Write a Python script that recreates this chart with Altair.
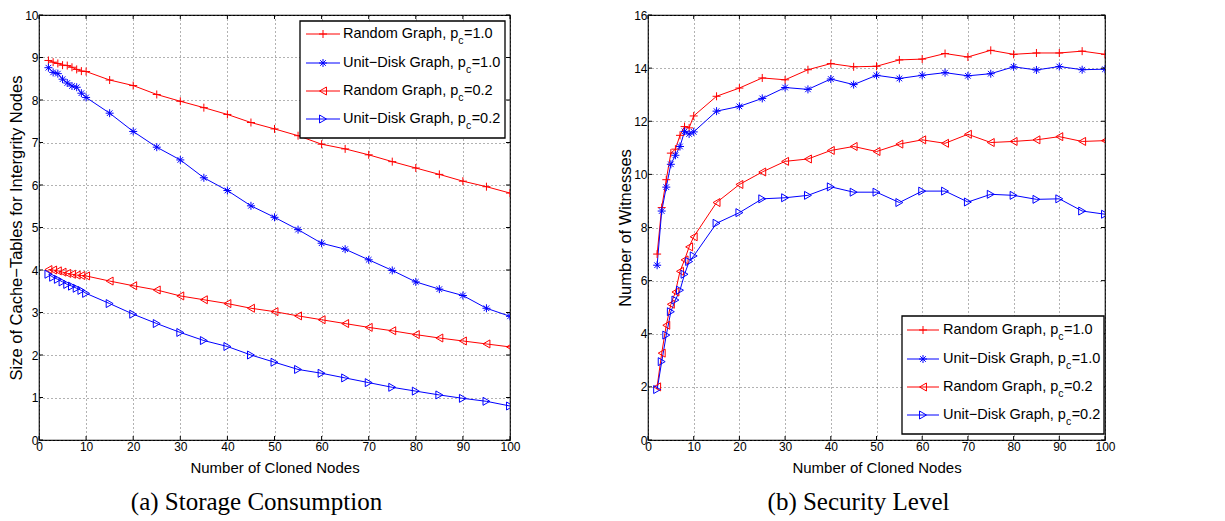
import altair as alt
import pandas as pd

# ---------------- data ----------------
X = [2, 3, 4, 5, 6, 7, 8, 9, 10, 15, 20, 25, 30, 35, 40, 45, 50, 55, 60, 65, 70, 75, 80, 85, 90, 95, 100]

SERIES = ["Random Graph, pc=1.0", "Unit-Disk Graph, pc=1.0", "Random Graph, pc=0.2", "Unit-Disk Graph, pc=0.2"]
LEGEND_PREFIX = ["Random Graph, p", "Unit\u2212Disk Graph, p", "Random Graph, p", "Unit\u2212Disk Graph, p"]
LEGEND_SUB = ["c", "c", "c", "c"]
LEGEND_SUFFIX = ["=1.0", "=1.0", "=0.2", "=0.2"]

# (a) Storage Consumption
A_RAND_10 = [8.93, 8.89, 8.86, 8.82, 8.81, 8.77, 8.72, 8.68, 8.67, 8.47, 8.34, 8.13, 7.97, 7.82, 7.66, 7.47, 7.32, 7.16, 6.96, 6.85, 6.71, 6.55, 6.40, 6.25, 6.09, 5.96, 5.81]
A_UDG_10 = [8.76, 8.65, 8.62, 8.49, 8.40, 8.33, 8.30, 8.16, 8.06, 7.69, 7.26, 6.89, 6.59, 6.17, 5.87, 5.51, 5.24, 4.95, 4.63, 4.49, 4.24, 3.99, 3.72, 3.55, 3.40, 3.10, 2.91]
A_RAND_02 = [4.01, 4.00, 3.98, 3.95, 3.92, 3.90, 3.88, 3.87, 3.86, 3.74, 3.63, 3.53, 3.39, 3.30, 3.21, 3.10, 3.02, 2.92, 2.83, 2.74, 2.65, 2.57, 2.48, 2.40, 2.33, 2.26, 2.19]
A_UDG_02 = [3.90, 3.83, 3.78, 3.72, 3.66, 3.62, 3.57, 3.52, 3.45, 3.21, 2.96, 2.74, 2.53, 2.34, 2.20, 2.00, 1.83, 1.66, 1.57, 1.46, 1.35, 1.24, 1.15, 1.06, 0.98, 0.91, 0.80]

# (b) Security Level
B_RAND_10 = [7.0, 8.75, 9.8, 10.8, 10.95, 11.47, 11.8, 11.75, 12.2, 12.94, 13.25, 13.63, 13.56, 13.94, 14.17, 14.05, 14.07, 14.31, 14.34, 14.55, 14.42, 14.67, 14.52, 14.57, 14.57, 14.64, 14.52]
B_UDG_10 = [6.58, 8.62, 9.52, 10.38, 10.72, 11.05, 11.62, 11.52, 11.6, 12.38, 12.56, 12.86, 13.27, 13.2, 13.59, 13.38, 13.73, 13.61, 13.73, 13.83, 13.71, 13.79, 14.05, 13.93, 14.06, 13.94, 13.96]
B_RAND_02 = [2.0, 3.27, 4.32, 5.11, 5.57, 6.35, 6.78, 7.27, 7.65, 8.94, 9.62, 10.09, 10.49, 10.58, 10.9, 11.05, 10.86, 11.14, 11.3, 11.17, 11.51, 11.2, 11.24, 11.3, 11.42, 11.24, 11.27]
B_UDG_02 = [1.9, 2.95, 3.95, 4.83, 5.27, 5.64, 6.24, 6.72, 6.93, 8.16, 8.56, 9.08, 9.12, 9.21, 9.53, 9.33, 9.33, 8.94, 9.37, 9.37, 8.96, 9.25, 9.21, 9.06, 9.08, 8.62, 8.50]

X_TICKS = [0, 10, 20, 30, 40, 50, 60, 70, 80, 90, 100]
A_Y_TICKS = [0, 1, 2, 3, 4, 5, 6, 7, 8, 9, 10]
B_Y_TICKS = [0, 2, 4, 6, 8, 10, 12, 14, 16]

# ---------------- style ----------------
FONT = "Liberation Sans"
SERIF = "Liberation Serif"
COLORS = ["#ff0000", "#0000ff", "#ff0000", "#0000ff"]
PLUS = "M-1,0H1M0,-1V1"
STAR = "M-1,0H1M0,-1V1M-0.7,-0.7L0.7,0.7M-0.7,0.7L0.7,-0.7"
SHAPES = [PLUS, STAR, "triangle-left", "triangle-right"]
MSIZE = 64
LEG_FS = 14.5
SUB_FS = 10.5
TICK_LEN = 4
H = 425

# Arial / Liberation Sans advance widths (per 1000 em)
AW = {" ": 278, ",": 278, "-": 333, "\u2212": 584, "=": 584, ".": 278, "0": 556, "1": 556, "2": 556,
      "R": 722, "G": 778, "U": 722, "D": 722, "a": 556, "n": 556, "d": 556, "o": 556, "m": 833,
      "r": 333, "p": 556, "h": 556, "i": 222, "t": 278, "s": 500, "k": 500, "c": 500}


def tw(s, size):
    return sum(AW.get(ch, 556) for ch in s) * size / 1000.0


def panel(vals, ymax, yticks, ytitle, caption, width, height, box, rows_y, line_x, text_x):
    recs = []
    for name, ys in zip(SERIES, vals):
        for xv, yv in zip(X, ys):
            recs.append({"x": xv, "y": yv, "series": name})
    df = pd.DataFrame(recs)
    color = alt.Color("series:N", scale=alt.Scale(domain=SERIES, range=COLORS), legend=None)
    shape = alt.Shape("series:N", scale=alt.Scale(domain=SERIES, range=SHAPES), legend=None)
    xaxis = alt.Axis(values=X_TICKS, title="Number of Cloned Nodes", format="d", labelPadding=1,
                     titlePadding=8, titleFontSize=15)
    yaxis = alt.Axis(values=yticks, title=ytitle, format="d", labelPadding=1, titlePadding=0,
                     titleFontSize=16.5)
    xenc = alt.X("x:Q", scale=alt.Scale(domain=[0, 100], nice=False, zero=False), axis=xaxis)
    yenc = alt.Y("y:Q", scale=alt.Scale(domain=[0, ymax], nice=False), axis=yaxis)
    base = alt.Chart(df)
    lines = base.mark_line(strokeWidth=1, clip=True).encode(x=xenc, y=yenc, color=color, detail="series:N")
    pts = base.mark_point(strokeWidth=1, filled=False, size=MSIZE, opacity=1, clip=True).encode(
        x=xenc, y=yenc, color=color, shape=shape)

    # inward ticks on all four sides (MATLAB box style)
    xt = alt.Chart(pd.DataFrame({"x": X_TICKS}))
    yt = alt.Chart(pd.DataFrame({"y": yticks}))
    ticks = [
        xt.mark_rule(color="black", strokeWidth=1).encode(x=xenc, y=alt.value(height), y2=alt.value(height - TICK_LEN)),
        xt.mark_rule(color="black", strokeWidth=1).encode(x=xenc, y=alt.value(0), y2=alt.value(TICK_LEN)),
        yt.mark_rule(color="black", strokeWidth=1).encode(y=yenc, x=alt.value(0), x2=alt.value(TICK_LEN)),
        yt.mark_rule(color="black", strokeWidth=1).encode(y=yenc, x=alt.value(width), x2=alt.value(width - TICK_LEN)),
    ]

    dummy = alt.Chart(pd.DataFrame({"d": [0]}))
    layers = [lines, pts] + ticks
    layers.append(dummy.mark_rect(fill="white", stroke="black", strokeWidth=1.3).encode(
        x=alt.value(box[0]), x2=alt.value(box[1]), y=alt.value(box[2]), y2=alt.value(box[3])))
    for i in range(len(SERIES)):
        ry = rows_y[i]
        layers.append(dummy.mark_rule(color=COLORS[i], strokeWidth=1).encode(
            x=alt.value(line_x[0]), x2=alt.value(line_x[1]), y=alt.value(ry)))
        layers.append(dummy.mark_point(shape=SHAPES[i], color=COLORS[i], size=MSIZE, strokeWidth=1,
                                       filled=False, opacity=1).encode(
            x=alt.value((line_x[0] + line_x[1]) / 2), y=alt.value(ry)))
        pre = LEGEND_PREFIX[i]
        x1 = text_x + tw(pre, LEG_FS)
        x2 = x1 + tw(LEGEND_SUB[i], SUB_FS) + 0.5
        layers.append(dummy.mark_text(text=pre, align="left", baseline="middle", font=FONT,
                                      fontSize=LEG_FS, color="black").encode(
            x=alt.value(text_x), y=alt.value(ry)))
        layers.append(dummy.mark_text(text=LEGEND_SUB[i], align="left", baseline="middle", font=FONT,
                                      fontSize=SUB_FS, color="black").encode(
            x=alt.value(x1), y=alt.value(ry + 7)))
        layers.append(dummy.mark_text(text=LEGEND_SUFFIX[i], align="left", baseline="middle", font=FONT,
                                      fontSize=LEG_FS, color="black").encode(
            x=alt.value(x2), y=alt.value(ry)))
    return alt.layer(*layers).properties(
        width=width, height=height,
        title=alt.TitleParams(text=caption, orient="bottom", font=SERIF, fontSize=25,
                              fontWeight="normal", color="black", offset=15, anchor="middle",
                              frame="group", dx=-18))


left = panel([A_RAND_10, A_UDG_10, A_RAND_02, A_UDG_02], 10, A_Y_TICKS,
             "Size of Cache\u2212Tables for Intergrity Nodes", "(a) Storage Consumption",
             471, H, (261, 466, 6, 123), [19, 48, 76, 104], (267, 301), 304)
right = panel([B_RAND_10, B_UDG_10, B_RAND_02, B_UDG_02], 16, B_Y_TICKS,
              "Number of Witnesses", "(b) Security Level",
              457, H, (254, 456, H - 124, H - 6), [H - 110, H - 81, H - 53, H - 25], (259, 291), 295)

chart = alt.hconcat(left, right, spacing=96).properties(
    padding={"left": 0, "top": 0, "right": 0, "bottom": 0},
    background="white"
).configure_view(stroke="black", strokeWidth=1.2).configure_axis(
    labelFont=FONT, labelFontSize=12, labelColor="black",
    titleFont=FONT, titleFontWeight="normal", titleColor="black",
    grid=True, gridColor="#555555", gridDash=[1, 3], gridWidth=1, gridOpacity=0.9,
    ticks=False, domain=False, labelFlush=False, labelOverlap=False
)

chart.save("out.html", embed_options={"renderer": "svg", "actions": False})
